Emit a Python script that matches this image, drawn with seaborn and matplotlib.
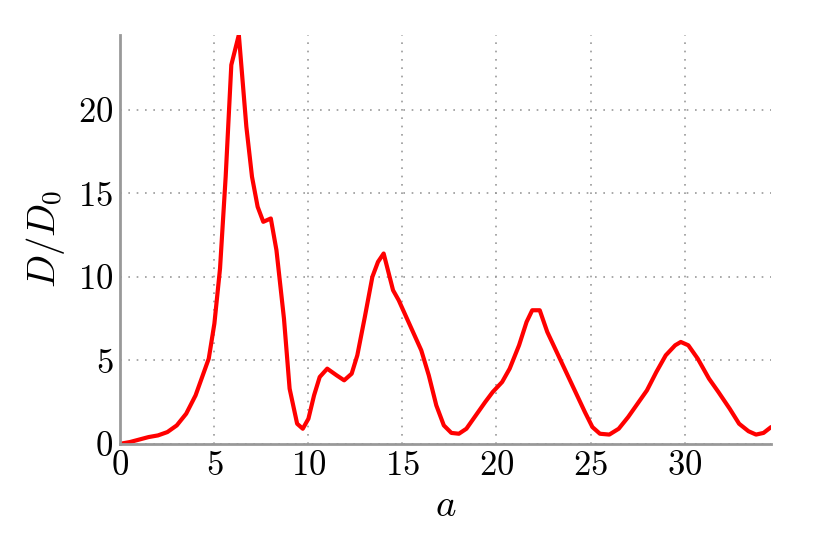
import matplotlib
matplotlib.use("Agg")
import matplotlib.pyplot as plt
import seaborn as sns
import pandas as pd

a_vals = [0, 0.5, 1, 1.5, 2, 2.5, 3, 3.5, 4, 4.7, 5.0, 5.3, 5.6, 5.9, 6.3, 6.7, 7.0, 7.3, 7.6,
          8.0, 8.3, 8.7, 9.0, 9.4, 9.7, 10.0, 10.3, 10.6, 11.0, 11.5, 11.9, 12.3, 12.6, 13.0,
          13.4, 13.7, 14.0, 14.5, 14.8, 15.2, 15.6, 16.0, 16.4, 16.8, 17.2, 17.6, 18.0, 18.4,
          18.9, 19.4, 19.8, 20.3, 20.7, 21.2, 21.6, 21.9, 22.3, 22.7, 23.2, 23.7, 24.2, 24.7,
          25.1, 25.5, 26.0, 26.5, 27.0, 27.5, 28.0, 28.5, 29.0, 29.5, 29.8, 30.2, 30.7, 31.3,
          31.8, 32.4, 32.9, 33.4, 33.8, 34.2, 34.6]
d_vals = [0, 0.1, 0.25, 0.4, 0.5, 0.7, 1.1, 1.8, 2.9, 5.1, 7.2, 10.5, 16, 22.7, 24.5, 19, 16,
          14.2, 13.3, 13.5, 11.6, 7.5, 3.3, 1.2, 0.9, 1.5, 2.9, 4.0, 4.5, 4.1, 3.8, 4.2, 5.3,
          7.6, 10.0, 10.9, 11.4, 9.2, 8.6, 7.6, 6.6, 5.6, 4.1, 2.3, 1.1, 0.65, 0.6, 0.9, 1.7,
          2.5, 3.1, 3.7, 4.5, 5.9, 7.3, 8.0, 8.0, 6.7, 5.5, 4.3, 3.1, 1.9, 1.0, 0.6, 0.55, 0.9,
          1.6, 2.4, 3.2, 4.3, 5.3, 5.9, 6.1, 5.9, 5.1, 3.9, 3.1, 2.1, 1.2, 0.75, 0.55, 0.65, 1.0]

df = pd.DataFrame({"a": a_vals, "D": d_vals})

sns.set_style("white")
plt.rcParams["font.family"] = ["serif"]
plt.rcParams["font.serif"] = ["cmr10"]
plt.rcParams["mathtext.fontset"] = "cm"
plt.rcParams["axes.formatter.use_mathtext"] = True

fig = plt.figure(figsize=(8.3, 5.54), dpi=100)
ax = fig.add_axes([0.145, 0.199, 0.784, 0.738])
sns.lineplot(data=df, x="a", y="D", color="red", linewidth=3, ax=ax)

ax.set_xlim(0, 34.6)
ax.set_ylim(0, 24.5)
ax.set_xticks([0, 5, 10, 15, 20, 25, 30])
ax.set_yticks([0, 5, 10, 15, 20])
ax.grid(True, color="#999999", linestyle=(0, (1, 4)), linewidth=1.2)
for s in ["top", "right"]:
    ax.spines[s].set_visible(False)
for s in ["left", "bottom"]:
    ax.spines[s].set_color("#999999")
    ax.spines[s].set_linewidth(2)
ax.tick_params(direction="in", length=10, width=2, color="#999999",
               labelsize=25, labelcolor="black", pad=5)
ax.set_xlabel("$a$", fontsize=28, color="black", labelpad=4)
ax.set_ylabel("$D/D_0$", fontsize=28, color="black", labelpad=8)

fig.savefig("out.png", dpi=100)
